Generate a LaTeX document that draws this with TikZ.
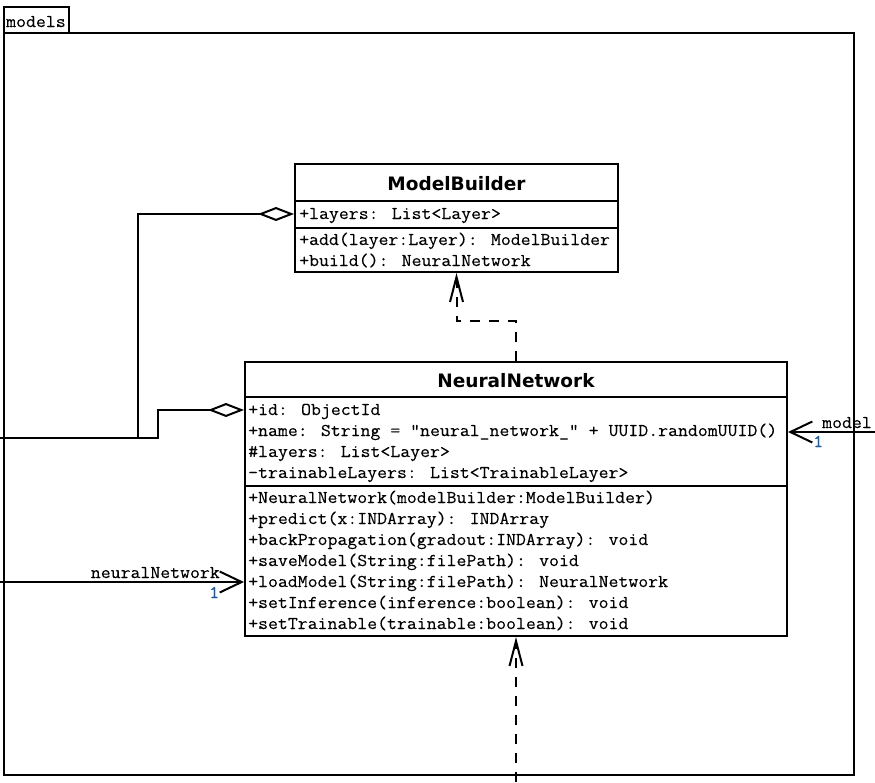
\documentclass[tikz,border=0pt]{standalone}
\usepackage{fontspec}
\newfontfamily\monofont{Latin Modern Mono}[FakeStretch=1.07, FakeBold=0.15]
\newfontfamily\titlefont{DejaVu Sans}
\usetikzlibrary{arrows.meta}
\definecolor{multblue}{RGB}{30,90,160}
\tikzset{
  classbox/.style={draw, line width=2pt, inner sep=0pt},
  member/.style={font=\monofont\fontsize{18}{20}\selectfont, anchor=base west, inner sep=0pt},
  classname/.style={font=\titlefont\bfseries\fontsize{18.5}{22}\selectfont, anchor=base, inner sep=0pt},
  rolelabel/.style={member},
  multlabel/.style={member, text=multblue},
  aggr/.style={line width=2pt, {Diamond[open, fill=white, length=36pt, width=14pt]}-},
  assoc/.style={line width=2pt, -{Straight Barb[length=22pt, width=21pt]}},
  depend/.style={line width=2pt, dash pattern=on 10pt off 9pt, -{Straight Barb[length=25pt, width=13pt]}}
}
\begin{document}
\begin{tikzpicture}[x=1pt, y=-1pt]
        \useasboundingbox (0,0) rectangle (875,782);

        % package
        \draw[line width=2pt] (4,7) rectangle (69,33);
        \draw[line width=2pt] (4,33) rectangle (854,775);
        \node[member] (pkgname) at (6,27) {models};

        % ModelBuilder
        \node[classbox, minimum width=323pt, minimum height=108pt] (mb) at (456.5,218) {};
        \draw[line width=2pt] (295,201) -- (618,201);
        \draw[line width=2pt] (295,228) -- (618,228);
        \node[classname] (mbTitle) at (456.5,190) {ModelBuilder};
        \node[member] (mbLayers) at (299,219) {+layers: List<Layer>};
        \node[member] (mbAdd) at (299,245) {+add(layer:Layer): ModelBuilder};
        \node[member] (mbBuild) at (299,266) {+build(): NeuralNetwork};

        % NeuralNetwork
        \node[classbox, minimum width=542pt, minimum height=274pt] (nn) at (516,499) {};
        \draw[line width=2pt] (245,397) -- (787,397);
        \draw[line width=2pt] (245,486) -- (787,486);
        \node[classname] (nnTitle) at (516,387) {NeuralNetwork};
        \node[member] (nnId) at (248,415) {+id: ObjectId};
        \node[member] (nnName) at (248,436) {+name: String = "neural\_network\_" + UUID.randomUUID()};
        \node[member] (nnLayers) at (248,457) {\#layers: List<Layer>};
        \node[member] (nnTrain) at (248,478) {-trainableLayers: List<TrainableLayer>};
        \node[member] (nnCtor) at (248,503) {+NeuralNetwork(modelBuilder:ModelBuilder)};
        \node[member] (nnPredict) at (248,524) {+predict(x:INDArray): INDArray};
        \node[member] (nnBack) at (248,545) {+backPropagation(gradout:INDArray): void};
        \node[member] (nnSave) at (248,566) {+saveModel(String:filePath): void};
        \node[member] (nnLoad) at (248,587) {+loadModel(String:filePath): NeuralNetwork};
        \node[member] (nnInfer) at (248,608) {+setInference(inference:boolean): void};
        \node[member] (nnSetTrain) at (248,629) {+setTrainable(trainable:boolean): void};

        % free ends
        \coordinate (leftA) at (0,438);
        \coordinate (leftB) at (0,582);
        \coordinate (rightA) at (875,432);
        \coordinate (bottomA) at (516,782);

        % aggregations
        \draw[aggr] (mb.west |- 0,214) -- (138,214) -- (138,438) -- (leftA);
        \draw[aggr] (nn.west |- 0,410) -- (158,410) -- (158,438) -- (138,438);

        % dependencies
        \draw[depend] (nn.north) -- ++(0,-40) -| (mb.south);
        \draw[depend] (bottomA) -- (nn.south);

        % associations
        \draw[assoc] (rightA) -- (nn.east |- 0,432);
        \node[rolelabel] (modelRole) at (822,428) {model};
        \node[multlabel] (modelMult) at (813,447) {1};

        \draw[assoc] (leftB) -- (nn.west |- 0,582);
        \node[rolelabel, anchor=base east] (nnRole) at (220,578) {neuralNetwork};
        \node[multlabel] (nnMult) at (209,598) {1};
      \end{tikzpicture}
\end{document}
